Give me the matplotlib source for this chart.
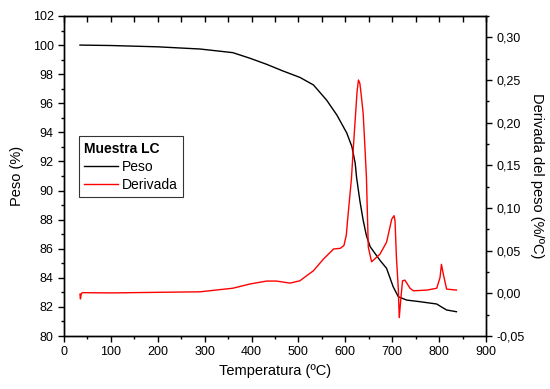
import numpy as np
import matplotlib.pyplot as plt
from matplotlib.ticker import MultipleLocator, FuncFormatter

plt.rcParams['font.family'] = ['Liberation Sans', 'DejaVu Sans']

# Peso (%) frente a temperatura
T_peso = [34, 100, 200, 290, 360, 397, 432, 467, 503, 532, 560, 582, 603, 614,
          621, 624, 631, 638, 645, 653, 674, 688, 702, 713, 731, 759, 795, 805,
          816, 837]
peso = [100.0, 99.97, 99.88, 99.73, 99.48, 99.09, 98.68, 98.22, 97.78, 97.26,
        96.22, 95.19, 93.96, 93.02, 91.89, 90.9, 89.3, 87.97, 86.9, 86.14,
        85.2, 84.65, 83.39, 82.7, 82.47, 82.36, 82.2, 82.0, 81.79, 81.67]

# Derivada del peso (%/ºC)
T_der = [34, 35, 37, 40, 100, 200, 290, 360, 397, 432, 453, 482, 503, 532, 553,
         575, 589, 597, 602, 606, 613, 617, 621, 625, 628, 631, 634, 638, 641,
         645, 649, 656, 674, 688, 699, 704, 706, 709, 713, 715, 718, 722, 727,
         738, 745, 774, 795, 802, 805, 809, 816, 837]
der = [-0.001, -0.0065, 0.0, 0.0008, 0.0005, 0.0012, 0.0018, 0.006, 0.011,
       0.0144, 0.0144, 0.012, 0.0147, 0.0265, 0.040, 0.052, 0.0527, 0.056,
       0.068, 0.093, 0.134, 0.170, 0.203, 0.236, 0.250, 0.246, 0.232, 0.211,
       0.180, 0.136, 0.054, 0.037, 0.046, 0.060, 0.087, 0.091, 0.085, 0.042,
       0.005, -0.0285, -0.009, 0.0147, 0.0155, 0.006, 0.003, 0.0038, 0.006,
       0.0186, 0.034, 0.0226, 0.005, 0.0038]

fig = plt.figure(figsize=(5.5, 3.89), dpi=100)
ax = fig.add_axes([0.1164, 0.1362, 0.7672, 0.8227])
ax2 = ax.twinx()

l1, = ax.plot(T_peso, peso, color='black', lw=1, label='Peso')
l2, = ax2.plot(T_der, der, color='red', lw=1, label='Derivada')

ax.set_xlim(0, 900)
ax.set_ylim(80, 102)
ax2.set_ylim(-0.05, 0.325)

ax.xaxis.set_major_locator(MultipleLocator(100))
ax.xaxis.set_minor_locator(MultipleLocator(50))
ax.yaxis.set_major_locator(MultipleLocator(2))
ax.yaxis.set_minor_locator(MultipleLocator(1))
ax2.yaxis.set_major_locator(MultipleLocator(0.05))
ax2.yaxis.set_minor_locator(MultipleLocator(0.025))
ax2.yaxis.set_major_formatter(FuncFormatter(lambda v, p: f"{v:.2f}".replace('.', ',')))

ax.tick_params(which='major', direction='out', length=4, width=1, labelsize=9)
ax.tick_params(which='minor', direction='out', length=2.5, width=1)
ax2.tick_params(which='major', direction='out', length=4, width=1, labelsize=9)
ax2.tick_params(which='minor', direction='out', length=2.5, width=1)

top = ax.secondary_xaxis('top')
top.xaxis.set_major_locator(MultipleLocator(50))
top.tick_params(direction='in', length=4, width=1, labeltop=False)

for a in (ax, ax2):
    for s in a.spines.values():
        s.set_linewidth(1)

ax.set_xlabel('Temperatura (ºC)', fontsize=10.5)
ax.set_ylabel('Peso (%)', fontsize=10.5, labelpad=6)
ax2.set_ylabel('Derivada del peso (%/ºC)', fontsize=10.5, rotation=270, labelpad=14)

leg = ax.legend([l1, l2], ['Peso', 'Derivada'], title='Muestra LC',
                loc='upper left', bbox_to_anchor=(0.035, 0.625), fontsize=10,
                title_fontproperties={'weight': 'bold', 'size': 10},
                frameon=True, fancybox=False, edgecolor='black',
                handlelength=2.4, handletextpad=0.3, borderpad=0.4,
                labelspacing=0.3, borderaxespad=0)
leg._legend_box.align = 'left'
leg.get_frame().set_linewidth(0.8)

plt.savefig('out.png', dpi=100)
